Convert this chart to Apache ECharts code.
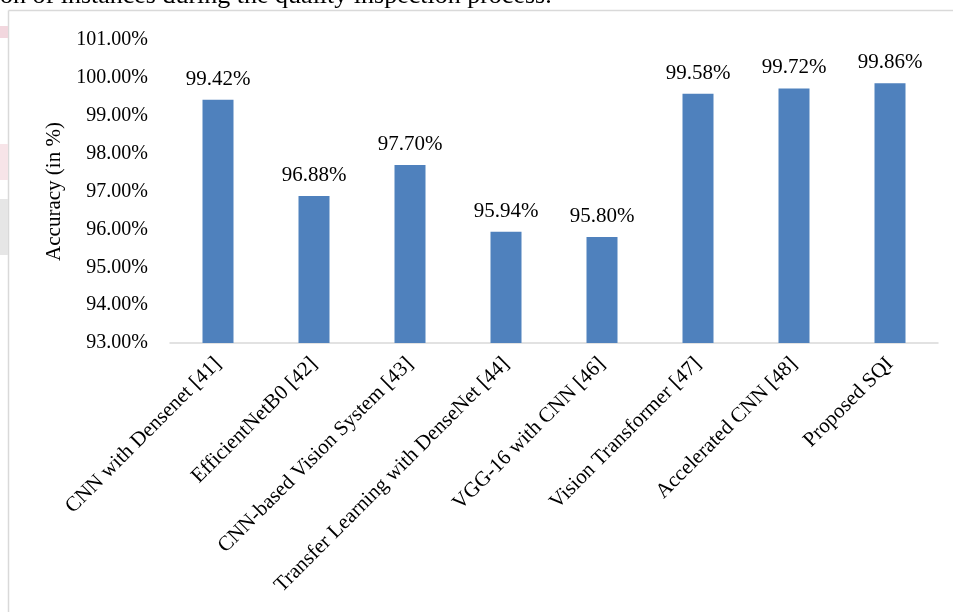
<!DOCTYPE html>
<html>
<head>
<meta charset="utf-8">
<script src="https://cdn.jsdelivr.net/npm/echarts@6/dist/echarts.min.js"></script>
<style>
  html, body { margin: 0; padding: 0; background: #fff; }
  #chart { width: 953px; height: 612px; }
</style>
</head>
<body>
<div id="chart"></div>
<script>
// data
const methods = [
  'CNN with Densenet [41]',
  'EfficientNetB0 [42]',
  'CNN-based Vision System [43]',
  'Transfer Learning with DenseNet [44]',
  'VGG-16 with CNN [46]',
  'Vision Transformer [47]',
  'Accelerated CNN [48]',
  'Proposed SQI'
]
const accuracy = [99.42, 96.88, 97.70, 95.94, 95.80, 99.58, 99.72, 99.86]
const yMin = 93
const yMax = 101

const serif = '"Liberation Serif", "Times New Roman", serif'

const myChart = echarts.init(document.getElementById('chart'))
myChart.setOption({
  backgroundColor: '#fff',
  animation: false,
  graphic: [
    // page frame around the figure
    { type: 'line', shape: { x1: 8.5, y1: 10.5, x2: 960, y2: 10.5 }, style: { stroke: '#d9d9d9', lineWidth: 1.5 } },
    { type: 'line', shape: { x1: 8.5, y1: 10.5, x2: 8.5, y2: 620 }, style: { stroke: '#d9d9d9', lineWidth: 1.5 } },
    // bits of the surrounding page at the left edge
    { type: 'rect', shape: { x: 0, y: 26, width: 8, height: 12 }, style: { fill: '#f2d7de' } },
    { type: 'rect', shape: { x: 0, y: 144, width: 8, height: 36 }, style: { fill: '#f7e4e8' } },
    { type: 'rect', shape: { x: 0, y: 199, width: 8, height: 56 }, style: { fill: '#e6e6e6' } },
    // caption text cut off at the top
    {
      type: 'text', left: 0, top: -17,
      style: { text: 'on of instances during the quality inspection process.', font: '26px ' + serif, fill: '#000' }
    }
  ],
  grid: {
    left: 170,
    right: 15,
    top: 40,
    bottom: 269,
    outerBoundsMode: 'none'
  },
  xAxis: {
    type: 'category',
    data: methods,
    axisLine: { lineStyle: { color: '#d9d9d9', width: 1.5 } },
    axisTick: { show: false },
    axisLabel: {
      interval: 0,
      rotate: 45,
      margin: 18,
      color: '#000',
      fontFamily: serif,
      fontSize: 21
    }
  },
  yAxis: {
    type: 'value',
    min: yMin,
    max: yMax,
    interval: 1,
    name: 'Accuracy (in %)',
    nameLocation: 'middle',
    nameGap: 103,
    nameTextStyle: { color: '#000', fontFamily: serif, fontSize: 21 },
    axisLine: { show: false },
    axisTick: { show: false },
    splitLine: { show: false },
    axisLabel: {
      margin: 22,
      color: '#000',
      fontFamily: serif,
      fontSize: 20,
      formatter: v => v.toFixed(2) + '%'
    }
  },
  series: [{
    type: 'bar',
    data: accuracy,
    barWidth: 31,
    itemStyle: { color: '#4f81bd' },
    label: {
      show: true,
      position: 'top',
      distance: 10,
      color: '#000',
      fontFamily: serif,
      fontSize: 21,
      formatter: p => p.value.toFixed(2) + '%'
    }
  }]
})
</script>
</body>
</html>
